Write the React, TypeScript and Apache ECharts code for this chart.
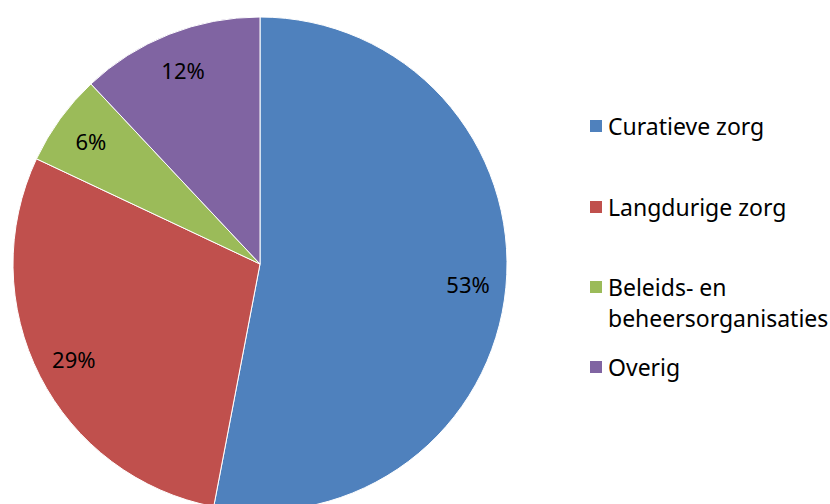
import React, { useEffect, useRef } from "react";
import * as echarts from "echarts";

const categories = ["Curatieve zorg", "Langdurige zorg", "Beleids- en beheersorganisaties", "Overig"];
const legendLabels = ["Curatieve zorg", "Langdurige zorg", "\u00a0\nBeleids- en\nbeheersorganisaties", "Overig"];
const values = [53, 29, 6, 12];
const colors = ["#4F81BD", "#C0504D", "#9BBB59", "#8064A2"];

const FONT = "Noto Sans";

export default function App() {
  const ref = useRef<HTMLDivElement>(null);
  useEffect(() => {
    if (!ref.current) return;
    const chart = echarts.init(ref.current, null, { renderer: "svg" });
    const data = categories.map((name, i) => ({ name, value: values[i], itemStyle: { color: colors[i] } }));
    const legendTops = [110.5, 191.5, 240.5, 351.5];
    const legends = categories.map((name, i) => ({
      orient: "vertical",
      left: 588,
      top: legendTops[i],
      padding: 0,
      itemWidth: 14,
      itemHeight: 14,
      itemGap: 0,
      icon: "rect",
      selectedMode: false,
      data: [name],
      formatter: () => legendLabels[i],
      textStyle: {
        fontFamily: FONT,
        fontSize: 23,
        color: "#000",
        lineHeight: 31,
      },
    }));
    chart.setOption({
      animation: false,
      backgroundColor: "#fff",
      legend: legends,
      series: [
        {
          type: "pie",
          center: [260, 264],
          radius: [0, 247],
          startAngle: 90,
          clockwise: true,
          silent: true,
          label: { show: false },
          labelLine: { show: false },
          itemStyle: { borderColor: "#fff", borderWidth: 1 },
          data,
        },
        {
          type: "pie",
          center: [260, 264],
          radius: [0, 412],
          startAngle: 90,
          clockwise: true,
          silent: true,
          legendHoverLink: false,
          itemStyle: { color: "rgba(0,0,0,0)", borderWidth: 0 },
          label: {
            show: true,
            position: "inside",
            formatter: "{c}%",
            fontFamily: FONT,
            fontSize: 22,
            color: "#000",
          },
          labelLine: { show: false },
          data: categories.map((name, i) => ({ name, value: values[i] })),
        },
      ],
    });
    return () => chart.dispose();
  }, []);
  return (
    <div
      ref={ref}
      style={{ position: "fixed", left: 0, top: 0, width: 830, height: 504 }}
    />
  );
}
